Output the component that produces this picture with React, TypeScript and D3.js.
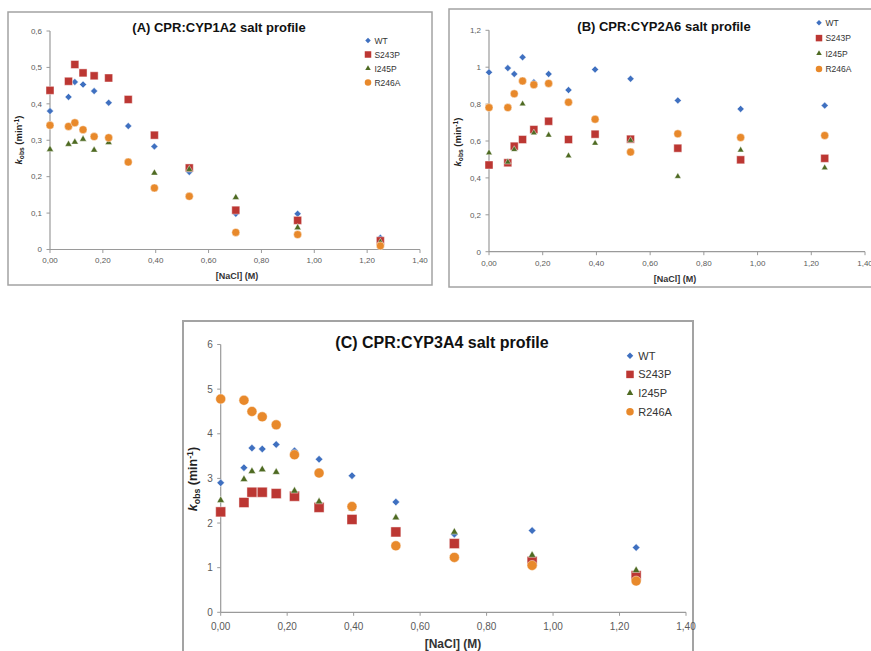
import React from "react";
import * as d3 from "d3";

// ---------- data ----------
const nacl = [0, 0.07, 0.094, 0.125, 0.167, 0.222, 0.296, 0.395, 0.527, 0.703, 0.937, 1.25];
const seriesNames = ["WT", "S243P", "I245P", "R246A"];
const seriesColors = ["#3f70c0", "#bc3733", "#4e6a22", "#e8892b"];
const seriesShapes = ["diamond", "square", "triangle", "circle"];
const xTicks = [0, 0.2, 0.4, 0.6, 0.8, 1.0, 1.2, 1.4];

// Panel A: CPR:CYP1A2
const aWT = [0.380, 0.419, 0.460, 0.453, 0.435, 0.403, 0.339, 0.283, 0.213, 0.098, 0.098, 0.032];
const aS243P = [0.437, 0.462, 0.508, 0.485, 0.477, 0.471, 0.412, 0.314, 0.224, 0.108, 0.080, 0.024];
const aI245P = [0.275, 0.289, 0.295, 0.303, 0.273, 0.294, 0.240, 0.210, 0.220, 0.143, 0.060, 0.020];
const aR246A = [0.341, 0.338, 0.348, 0.329, 0.310, 0.307, 0.240, 0.169, 0.146, 0.047, 0.041, 0.010];
const aYTicks = [0, 0.1, 0.2, 0.3, 0.4, 0.5, 0.6];

// Panel B: CPR:CYP2A6
const bWT = [0.972, 0.995, 0.963, 1.054, 0.918, 0.963, 0.876, 0.988, 0.937, 0.820, 0.774, 0.792];
const bS243P = [0.470, 0.482, 0.572, 0.608, 0.662, 0.707, 0.608, 0.637, 0.610, 0.561, 0.498, 0.506];
const bI245P = [0.536, 0.486, 0.554, 0.801, 0.644, 0.632, 0.520, 0.588, 0.603, 0.408, 0.551, 0.455];
const bR246A = [0.781, 0.781, 0.856, 0.925, 0.905, 0.912, 0.810, 0.718, 0.540, 0.639, 0.619, 0.630];
const bYTicks = [0, 0.2, 0.4, 0.6, 0.8, 1.0, 1.2];

// Panel C: CPR:CYP3A4
const cWT = [2.90, 3.24, 3.68, 3.66, 3.76, 3.62, 3.43, 3.06, 2.47, 1.75, 1.83, 1.45];
const cS243P = [2.25, 2.46, 2.69, 2.69, 2.66, 2.60, 2.35, 2.08, 1.80, 1.54, 1.14, 0.82];
const cI245P = [2.51, 2.98, 3.16, 3.20, 3.14, 2.72, 2.48, 2.32, 2.12, 1.80, 1.28, 0.94];
const cR246A = [4.78, 4.75, 4.50, 4.38, 4.20, 3.53, 3.12, 2.37, 1.49, 1.23, 1.05, 0.70];
const cYTicks = [0, 1, 2, 3, 4, 5, 6];

const titles = [
  "(A) CPR:CYP1A2 salt profile",
  "(B) CPR:CYP2A6 salt profile",
  "(C) CPR:CYP3A4 salt profile",
];

// ---------- helpers ----------
const FONT = "'Liberation Sans', Arial, sans-serif";
const fmt = (v: number, dec: number) =>
  v === 0 && dec < 2 ? "0" : (dec === 2 ? v.toFixed(2) : String(+v.toFixed(dec))).replace(".", ",");

function markerPath(shape: string, s: number) {
  if (shape === "diamond") {
    const h = s / 2;
    return `M0,${-h}L${h},0L0,${h}L${-h},0Z`;
  }
  if (shape === "square") return d3.symbol(d3.symbolSquare, s * s)()!;
  if (shape === "triangle") return d3.symbol(d3.symbolTriangle, (Math.sqrt(3) / 4) * s * s)()!;
  return d3.symbol(d3.symbolCircle, (Math.PI * s * s) / 4)()!;
}

type PanelCfg = {
  frame: { x: number; y: number; w: number; h: number };
  plot: { x0: number; x1: number; yTop: number; yBot: number };
  yMax: number;
  yTicks: number[];
  yDec: number;
  series: number[][];
  title: string;
  titleX: number;
  titleY: number;
  titleFs: number;
  legX: number;
  legY: number;
  legDy: number;
  legFs: number;
  legSizes: number[];
  sizes: number[];
  tickFs: number;
  xLabY: number;
  xLabFs: number;
  xLabX: number;
  yLabX: number;
  yLabY: number;
  yLabFs: number;
  xTickDy: number;
  frameW: number;
};

function Panel({ c }: { c: PanelCfg }) {
  const x = d3.scaleLinear().domain([0, 1.4]).range([c.plot.x0, c.plot.x1]);
  const y = d3.scaleLinear().domain([0, c.yMax]).range([c.plot.yBot, c.plot.yTop]);
  const axisCol = "#9a9a9a";
  const tickCol = "#5a5a5a";
  return (
    <g>
      <rect x={c.frame.x} y={c.frame.y} width={c.frame.w} height={c.frame.h} fill="#fff" stroke="#a3a3a3" strokeWidth={c.frameW} />
      {/* axes */}
      <line x1={x(0)} x2={x(1.4)} y1={y(0)} y2={y(0)} stroke={axisCol} strokeWidth={1.2} />
      <line x1={x(0)} x2={x(0)} y1={y(0)} y2={y(c.yMax)} stroke={axisCol} strokeWidth={1.2} />
      {xTicks.map((t) => (
        <g key={"xt" + t}>
          <line x1={x(t)} x2={x(t)} y1={y(0)} y2={y(0) + 3.5} stroke={axisCol} />
          <text x={x(t)} y={y(0) + c.xTickDy} fontSize={c.tickFs} fill={tickCol} textAnchor="middle" fontFamily={FONT}>
            {fmt(t, 2)}
          </text>
        </g>
      ))}
      {c.yTicks.map((t) => (
        <g key={"yt" + t}>
          <line x1={x(0) - 3.5} x2={x(0)} y1={y(t)} y2={y(t)} stroke={axisCol} />
          <text x={x(0) - 8} y={y(t) + c.tickFs * 0.35} fontSize={c.tickFs} fill={tickCol} textAnchor="end" fontFamily={FONT}>
            {fmt(t, c.yDec)}
          </text>
        </g>
      ))}
      {/* points */}
      {c.series.map((vals, si) => (
        <g key={"s" + si}>
          {vals.map((v, i) => (
            <path
              key={i}
              d={markerPath(seriesShapes[si], c.sizes[si])}
              transform={`translate(${x(nacl[i])},${y(v)})`}
              fill={seriesColors[si]}
              stroke="rgba(255,255,255,0.55)"
              strokeWidth={0.8}
            />
          ))}
        </g>
      ))}
      {/* title */}
      <text x={c.titleX} y={c.titleY} fontSize={c.titleFs} fontWeight="bold" textAnchor="middle" fontFamily={FONT} fill="#111">
        {c.title}
      </text>
      {/* legend */}
      {seriesNames.map((n, si) => (
        <g key={"l" + n}>
          <path
            d={markerPath(seriesShapes[si], c.legSizes[si])}
            transform={`translate(${c.legX},${c.legY + si * c.legDy})`}
            fill={seriesColors[si]}
          />
          <text x={c.legX + c.legFs * 0.75} y={c.legY + si * c.legDy + c.legFs * 0.36} fontSize={c.legFs} fill="#333" fontFamily={FONT}>
            {n}
          </text>
        </g>
      ))}
      {/* axis titles */}
      <text x={c.xLabX} y={c.xLabY} fontSize={c.xLabFs} fontWeight="bold" textAnchor="middle" fontFamily={FONT} fill="#333">
        [NaCl] (M)
      </text>
      <text
        transform={`translate(${c.yLabX},${c.yLabY}) rotate(-90)`}
        fontSize={c.yLabFs}
        fontWeight="bold"
        textAnchor="middle"
        fontFamily={FONT}
        fill="#222"
      >
        <tspan fontStyle="italic">k</tspan>
        <tspan fontSize={c.yLabFs * 0.7} dy={c.yLabFs * 0.25}>obs</tspan>
        <tspan dy={-c.yLabFs * 0.25}> (min</tspan>
        <tspan fontSize={c.yLabFs * 0.7} dy={-c.yLabFs * 0.35}>-1</tspan>
        <tspan dy={c.yLabFs * 0.35}>)</tspan>
      </text>
    </g>
  );
}

const panelA: PanelCfg = {
  frame: { x: 8, y: 12, w: 424, h: 273 },
  plot: { x0: 50, x1: 420, yTop: 31, yBot: 249.5 },
  yMax: 0.6,
  yTicks: aYTicks,
  yDec: 1,
  series: [aWT, aS243P, aI245P, aR246A],
  title: titles[0],
  titleX: 219,
  titleY: 31.5,
  titleFs: 13,
  legX: 368,
  legY: 40.5,
  legDy: 14,
  legFs: 8.5,
  legSizes: [5.5, 6.5, 5.5, 6.5],
  sizes: [7, 8, 7, 8],
  tickFs: 8,
  xLabY: 278.5,
  xLabFs: 9,
  xLabX: 237,
  yLabX: 22,
  yLabY: 140,
  yLabFs: 9.5,
  xTickDy: 13.5,
  frameW: 1.5,
};

const panelB: PanelCfg = {
  frame: { x: 449, y: 9, w: 440, h: 278 },
  plot: { x0: 489, x1: 865, yTop: 30.3, yBot: 251.7 },
  yMax: 1.2,
  yTicks: bYTicks,
  yDec: 1,
  series: [bWT, bS243P, bI245P, bR246A],
  title: titles[1],
  titleX: 664,
  titleY: 30.7,
  titleFs: 13,
  legX: 819,
  legY: 22.7,
  legDy: 15.4,
  legFs: 8.5,
  legSizes: [5.5, 6.5, 5.5, 6.5],
  sizes: [7, 8, 6.5, 8],
  tickFs: 8,
  xLabY: 281.5,
  xLabFs: 9,
  xLabX: 675,
  yLabX: 461,
  yLabY: 142,
  yLabFs: 9.5,
  xTickDy: 14,
  frameW: 1.5,
};

const panelC: PanelCfg = {
  frame: { x: 183, y: 321, w: 510, h: 345 },
  plot: { x0: 220.7, x1: 686, yTop: 344.5, yBot: 612.3 },
  yMax: 6,
  yTicks: cYTicks,
  yDec: 0,
  series: [cWT, cS243P, cI245P, cR246A],
  title: titles[2],
  titleX: 442,
  titleY: 348,
  titleFs: 16,
  legX: 630,
  legY: 355.7,
  legDy: 18.7,
  legFs: 11,
  legSizes: [6.5, 7.5, 6.5, 7.5],
  sizes: [7.5, 10, 7.5, 10],
  tickFs: 10,
  xLabY: 647.5,
  xLabFs: 12,
  xLabX: 453,
  yLabX: 197,
  yLabY: 479,
  yLabFs: 12.5,
  xTickDy: 18,
  frameW: 2,
};

export default function App() {
  return (
    <svg
      width={871}
      height={651}
      style={{ position: "absolute", left: 0, top: 0, background: "#fff" }}
    >
      <rect x={0} y={0} width={871} height={651} fill="#fff" />
      <Panel c={panelA} />
      <Panel c={panelB} />
      <Panel c={panelC} />
    </svg>
  );
}
